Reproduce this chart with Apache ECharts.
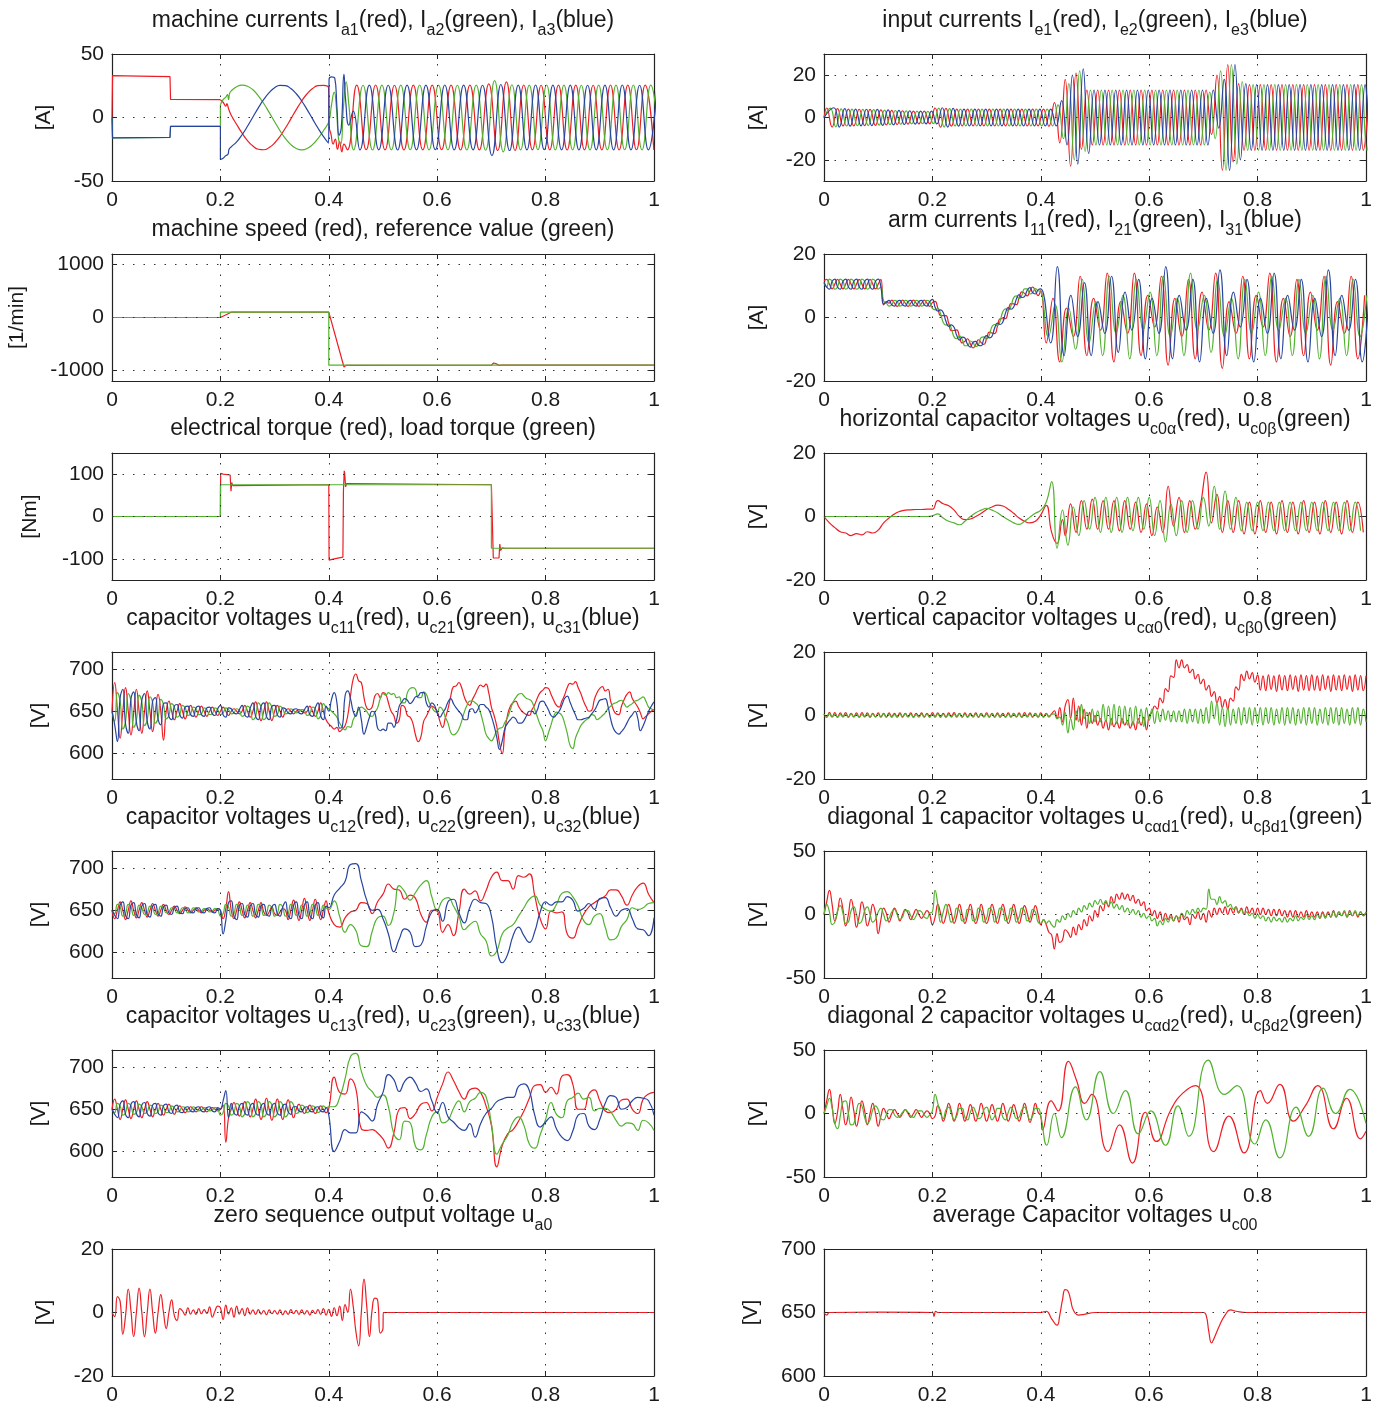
<!DOCTYPE html>
<html><head><meta charset="utf-8">
<script src="https://cdn.jsdelivr.net/npm/echarts@6/dist/echarts.min.js"></script>
<style>html,body{margin:0;padding:0;background:#fff}#c{width:1391px;height:1410px}</style>
</head><body><div id="c"></div>
<script>
// ---------- machine currents ----------
const ia1Step=[[0,0],[0.001,33],[0.05,32.6],[0.107,32.2],[0.108,14.2],[0.2,14]];
const ia2Step=[[0,0],[0.001,-16],[0.107,-15.7],[0.108,-7],[0.2,-7],[0.2,10]];
const ia3Step=[[0,0],[0.001,-16],[0.107,-15.7],[0.108,-7],[0.2,-7],[0.2,-33]];
const ia1Slow=[[0.2,14],[0.205,12],[0.21,9],[0.212,11],[0.215,7],[0.22,1.8],[0.23,-5.5],[0.24,-12.3],[0.25,-18.2],[0.26,-22.5],[0.27,-25],[0.28,-25.4],[0.29,-23.7],[0.3,-20.1],[0.31,-14.8],[0.32,-8.3],[0.33,-1.1],[0.34,6.2],[0.35,13],[0.36,18.7],[0.37,22.8],[0.38,25.1],[0.39,25.3],[0.3995,23.5],[0.401,-8],[0.404,-13],[0.408,-21],[0.412,-17],[0.416,-25],[0.42,-19],[0.424,-27],[0.428,-21]];
const ia2Slow=[[0.2,10],[0.205,14],[0.21,16],[0.213,18],[0.215,14],[0.217,19],[0.22,21],[0.23,24.2],[0.24,25.5],[0.25,24.6],[0.26,21.8],[0.27,17.1],[0.28,11],[0.29,4],[0.3,-3.3],[0.31,-10.4],[0.32,-16.6],[0.33,-21.4],[0.34,-24.4],[0.35,-25.5],[0.36,-24.4],[0.37,-21.4],[0.38,-16.6],[0.39,-10.4],[0.4,-3.3],[0.405,10],[0.41,20],[0.414,8],[0.418,-17],[0.422,-21],[0.427,8],[0.432,28],[0.437,10]];
const ia3Slow=[[0.2,-33],[0.205,-32],[0.21,-30],[0.214,-29],[0.216,-25],[0.22,-23.1],[0.23,-19.2],[0.24,-13.6],[0.25,-6.9],[0.26,0.4],[0.27,7.6],[0.28,14.2],[0.29,19.6],[0.3,23.5],[0.31,25.3],[0.32,25.1],[0.33,22.8],[0.34,18.7],[0.35,13],[0.36,6.2],[0.37,-1.1],[0.38,-8.3],[0.39,-14.8],[0.3995,-20.1],[0.4005,30],[0.405,32],[0.411,31],[0.415,8],[0.419,-14],[0.423,-8],[0.428,34],[0.431,14],[0.437,-6],[0.445,5]];
const ia1A=[-25.5,25.5,-25.4,25.6,-25.5,25.4,-25.6,25.5,-25.5,25.5,-25.4,25.5,-25.6,25.5,-25.5,26.5];
const ia1B=[-26,28,-26,25.6,-25.5,25.4,-25.5,25.5,-25.6,25.5,-25.5,25.4,-25.5,25.6,-25.5,25.5,-25.4,25.5,-25.5];
const ia2A=[-25.5,25.4,-25.6,25.5,-25.5,25.5,-25.4,25.6,-25.5,25.5,-25.5,25.4,-25.6,25.5,-25.8];
const ia2B=[29,-27,25.8,-25.5,25.5,-25.4,25.6,-25.5,25.5,-25.5,25.4,-25.6,25.5,-25.5,25.5,-25.4,25.6,-25.5,25.5,-25.5];
const ia3A=[-25.5,25.5,-25.5,25.4,-25.6,25.5,-25.5,25.5,-25.4,25.6,-25.5,25.5,-25.5,25.4,-30];
const ia3B=[26,-26,25.5,-25.5,25.6,-25.4,25.5,-25.5,25.5,-25.6,25.4,-25.5,25.5,-25.5,25.6,-25.5,25.4,-25.5,25.5];
// ---------- speed / torque ----------
const speedAct=[[0,0],[0.2,0],[0.22,100],[0.4,100],[0.428,-935],[0.432,-905],[0.7,-900],[0.704,-860],[0.708,-870],[0.714,-905],[0.72,-900],[1,-900]];
const speedRef=[[0,0],[0.2,0],[0.2,100],[0.4,100],[0.4,-900],[1,-900]];
const torqueEl=[[0,0],[0.2,0],[0.2005,102],[0.205,100],[0.218,98],[0.2195,60],[0.221,80],[0.223,73],[0.226,75],[0.4,75],[0.4005,-103],[0.41,-100],[0.426,-96],[0.427,60],[0.4285,108],[0.4295,100],[0.431,70],[0.433,78],[0.436,75],[0.7,75],[0.7035,-98],[0.714,-98],[0.7155,-65],[0.717,-80],[0.72,-74],[0.725,-75],[1,-75]];
const torqueLoad=[[0,0],[0.2,0],[0.2,75],[0.7,75],[0.7,-75],[1,-75]];
// ---------- capacitor voltages row 4 ----------
const uc11a=[650,684,652,618,650,678,650,622,648,676,650,624,650,674,650,626,650,670,650,616,
650,662,650,640,650,659,650,641,650,657,650,643,650,656,650,644,650,655,650,645,
650,655,650,645,650,653,650,647,650,657,650,643,650,661,650,639,650,661,650,639,
650,657,650,643,650,653,650,647,650,652,650,648,650,656,650,644,650,660,650,640];
const uc21a=[650,638,672,662,629,638,671,662,631,639,669,661,633,640,667,660,636,642,664,658,
641,645,659,655,643,646,657,654,645,647,655,653,646,647,654,652,646,647,654,652,
646,648,654,652,647,648,653,651,644,646,656,653,640,644,660,655,640,644,660,655,
644,646,656,653,647,648,653,651,648,649,652,651,645,647,655,653,641,645,659,655];
const uc31a=[650,634,614,666,676,635,624,665,673,637,627,663,671,638,629,662,666,641,634,659,
660,644,640,656,658,646,642,655,656,646,644,654,656,646,644,654,655,647,645,653,
657,646,643,654,653,648,647,652,657,646,643,654,660,644,640,656,660,644,640,656,
657,646,643,654,653,648,647,652,653,648,647,652,656,646,644,654,660,645,640,656];
const uc11b=[635,632,629,631,626,629,633,645,668,688,694,686,684,666,654,652,655,668,671,666,
672,670,660,650,645,636,640,657,655,645,643,636,622,614,620,638,644,651,656,654,
650,638,631,642,653,668,679,680,684,678,667,660,657,664,670,677,681,679,682,672,
655,645,632,612,600,628,646,656,660,662,656,651,648,646,645,652,658,666,672,675,
678,677,670,663,657,655,662,669,678,683,682,685,678,671,662,655,650,651,664,672,
677,679,674,676,662,652,647,646,656,664,670,673,665,660,655,648,641,644,647,650,652];
const uc21b=[653,650,647,643,636,631,628,632,631,640,646,652,655,653,650,645,644,649,654,665,
671,669,672,670,671,666,667,660,660,672,677,678,676,666,666,673,670,661,655,650,
649,655,652,643,636,625,622,624,629,638,649,657,662,662,660,657,648,636,623,618,
615,620,627,630,631,637,643,652,661,666,670,671,668,665,664,661,652,643,634,627,
615,624,634,644,649,648,645,636,624,610,606,618,626,633,637,640,642,646,645,640,
642,645,648,653,656,659,660,662,663,659,655,657,659,662,663,665,667,662,655,653,651];
const uc31b=[650,664,672,660,630,632,668,674,665,650,644,655,640,623,632,643,650,648,630,627,
629,627,636,636,631,640,656,661,665,663,659,662,667,668,672,672,660,655,660,657,
648,643,648,653,661,665,659,654,650,646,640,640,652,653,648,652,658,658,655,652,
644,633,619,605,615,630,636,640,643,641,636,636,639,645,650,650,647,652,661,662,
658,652,645,643,646,650,657,665,668,661,653,646,640,640,641,642,643,647,651,657,
663,664,665,656,641,630,625,623,626,630,636,642,646,650,642,627,633,641,650,656,661];
// ---------- capacitor voltages row 5 ----------
const uc12a=[650,640,650,660,650,639,650,661,650,641,650,659,650,642,650,658,650,643,650,657,
650,645,650,655,650,646,650,654,650,647,650,653,650,647,650,652,650,648,650,652,
650,640,652,672,650,640,650,660,650,641,650,659,650,641,650,659,648,644,648,654,
646,644,648,652,650,639,650,662,650,638,650,664,650,638,650,663,650,639,650,661];
const uc22a=[650,646,657,654,643,646,657,654,644,646,656,653,645,647,655,653,645,647,655,653,
647,648,653,652,647,648,653,652,647,648,653,651,648,649,652,651,648,649,652,651,
643,646,657,654,643,646,657,654,644,646,656,653,643,646,657,654,644,646,656,653,
643,646,657,654,643,646,657,654,644,646,656,653,643,646,657,654,644,646,656,653];
const uc32a=[650,644,640,656,660,644,640,656,659,645,641,655,658,645,642,655,657,646,643,654,
656,647,645,653,655,647,646,652,653,648,647,652,653,648,647,652,653,648,647,652,
650,622,638,659,661,643,639,656,658,645,642,655,658,645,642,655,657,646,643,654,
657,646,643,654,660,644,640,656,660,644,640,656,660,644,640,656,659,645,641,655];
const uc12b=[647,633,630,641,648,650,659,658,646,660,669,681,675,674,663,668,664,645,636,650,
649,624,633,620,647,675,669,673,661,673,689,695,685,685,675,691,689,693,667,640,
628,649,647,648,622,617,631,645,654,659,663,667,674,674,667,656,668,678,682,669,659];
const uc22b=[651,661,643,624,633,626,608,607,625,641,643,632,647,679,672,662,671,680,685,666,
650,662,665,655,643,627,633,637,622,614,596,602,622,629,633,643,653,663,667,656,
651,649,657,670,672,666,655,638,633,643,646,630,615,617,631,639,653,651,653,658,659];
const uc32b=[653,668,676,684,704,705,685,662,650,651,640,622,601,616,628,624,607,609,631,648,
651,637,660,663,647,635,653,663,659,658,643,605,588,598,620,630,620,612,625,648,
660,656,660,660,666,662,649,652,658,651,664,665,653,643,650,652,640,628,627,620,641];
// ---------- capacitor voltages row 6 ----------
const uc13a=[650,662,650,638,650,661,650,639,650,660,650,640,650,659,650,641,650,657,650,643,
650,656,650,644,650,654,650,646,650,653,650,647,650,653,650,647,650,652,650,648,
650,655,611,640,650,658,650,642,650,659,650,641,650,662,650,638,650,663,650,637,
650,662,650,638,650,661,650,640,650,656,650,645,650,655,650,645,650,654,650,646];
const uc23a=[650,646,657,654,643,646,657,654,644,646,656,653,645,647,655,653,645,647,655,653,
646,647,654,652,647,648,653,652,647,648,653,651,648,649,652,651,648,649,652,651,
643,646,657,654,643,646,657,654,641,645,659,655,641,645,659,655,641,645,659,655,
641,645,659,655,641,645,659,655,645,647,655,653,646,648,654,652,646,648,654,652];
const uc33a=[650,644,640,656,660,644,640,656,659,645,641,655,658,645,642,655,657,646,643,654,
656,647,645,653,655,647,646,652,653,648,647,652,653,648,647,652,653,648,647,652,
650,660,672,640,657,646,643,654,657,646,643,654,657,646,643,654,657,646,643,654,
657,646,643,654,656,647,644,653,653,648,647,652,653,648,647,652,653,648,647,652];
const uc13b=[651,688,670,668,686,674,627,625,626,622,615,604,622,650,652,639,645,656,658,648,
664,680,694,684,671,662,673,675,670,654,631,582,607,621,626,636,648,663,678,679,
670,676,668,689,691,680,650,650,668,673,660,648,646,650,661,662,650,645,662,668,670];
const uc23b=[653,653,664,686,712,716,695,678,671,664,667,653,621,614,636,634,606,602,620,641,
647,634,637,651,660,647,659,663,670,665,633,597,609,619,635,641,631,609,604,620,
638,658,644,640,660,664,669,662,664,648,651,651,647,637,630,634,633,625,637,634,625];
const uc33b=[643,600,612,626,622,622,647,643,636,656,670,691,685,671,683,688,681,671,674,660,
646,658,641,635,628,625,633,617,633,645,651,659,662,664,664,677,680,672,643,629,
635,641,627,617,613,624,643,645,630,626,638,657,666,664,650,652,660,664,663,660,643];
// ---------- zero sequence ----------
const ua0=[0,-1.3,5,3.5,-6.8,-1,7.4,0.5,-7.6,0,7.7,0,-7.6,0,7.4,0,-6.5,0,5.6,0,
-5,0,4,-1,-2.5,1.2,0.5,-0.8,1.5,-0.5,0.8,-0.6,1.2,-0.4,0.9,-0.3,1.8,-1.5,0.5,2,
1.5,-2.2,2.3,-0.5,1.5,-1.5,2,-0.5,1.2,-1,1.5,-0.5,0.8,-0.6,0.9,-0.5,0.6,-0.7,0.8,-0.4,
0.6,-0.5,0.8,-0.7,0.5,-0.6,0.9,-0.4,0.7,-0.6,0.8,-0.5,0.6,-0.8,0.7,-0.4,0.9,-0.6,1.2,-0.8,
1,-1.2,1.5,-1,2,-2.5,2.5,0,7.4,2,-6,-10.5,0,10.5,2,-7.6,1,4.5,4,-6.5,-5];
const ua0Tail=[[0.5005,0],[1,0]];
// ---------- input currents (extrema every 0.01 s) ----------
const ie1=[4.5,-4.5,4.2,-4,4,-4,3.9,-3.8,3.8,-3.7,3.6,-3.5,3.4,-3.3,3.2,-3.1,3,-3,3,-3,
4.5,-4.6,4.3,-4.1,4,-4,4,-4,4,-4,4,-4,4,-4,4,-4,4,-4,4,-4,
4,-4.2,7,-12,18,-23,21,-15,13,-13,13,-13,13,-13,13,-13,13,-13,13,-13,
13,-13,13,-13,13,-13,13,-13,13,-13,13,-8,20,-25,25,-21,16,-15.5,15.5,-15.5,
15.5,-15.5,15.5,-15.5,15.5,-15.5,15.5,-15.5,15.5,-15.5,15.5,-15.5,15.5,-15.5,15.5,-15.5,15.5,-15.5,15.5,-15.5,15.5];
const ie2=[4.4,-4.4,4.1,-4,4,-3.9,3.8,-3.8,3.7,-3.6,3.5,-3.4,3.3,-3.2,3.1,-3,3,-2.9,2.9,-2.9,
4.4,-4.5,4.2,-4,4,-4,4,-4,4,-4,4,-4,4,-4,4,-4,4,-4,4,-4,
4,-4,6,-10,16,-20,22,-16,13,-13,13,-13,13,-13,13,-13,13,-13,13,-13,
13,-13,13,-13,13,-13,13,-13,13,-13,12,-10,22,-25,25,-22,17,-15.5,15.5,-15.5,
15.5,-15.5,15.5,-15.5,15.5,-15.5,15.5,-15.5,15.5,-15.5,15.5,-15.5,15.5,-15.5,15.5,-15.5,15.5,-15.5,15.5,-15.5,15.5];
const ie3=[4.6,-4.5,4.2,-4.1,4,-4,3.9,-3.9,3.8,-3.7,3.6,-3.5,3.4,-3.3,3.2,-3.1,3,-3,3,-3,
4.6,-4.5,4.3,-4.1,4,-4,4,-4,4,-4,4,-4,4,-4,4,-4,4,-4,4,-4,
4,-4,8,-13,20,-22,23,-17,13,-13,13,-13,13,-13,13,-13,13,-13,13,-13,
13,-13,13,-13,13,-13,13,-13,13,-13,13,-5,18,-25,25,-20,16,-15.5,15.5,-15.5,
15.5,-15.5,15.5,-15.5,15.5,-15.5,15.5,-15.5,15.5,-15.5,15.5,-15.5,15.5,-15.5,15.5,-15.5,15.5,-15.5,15.5,-15.5,15.5];
// ---------- arm currents ----------
const arm11a=[11.5,12,10.5,9,10.5,12,10.5,9,10.5,12,10.5,9,10.5,12,10.5,9,10.5,12,10.5,9,
10.5,12,4,5,4.5,5.5,4.5,3.5,4.5,5.5,4.5,3.5,4.5,5.5,4.5,3.5,4.5,5.5,4.5,3.5,
4.7,5.05,3,0.6,0.6,0.6,-1.8,-4.15,-4.1,-3.9,-6.1,-8,-7.5,-6.7,-8.3,-9.6,-8.5,-7,-7.9,-8.5,
-6.7,-4.6,-4.9,-5.05,-2.8,-0.4,-0.4,-0.35,2.1,4.4,4.3,4.05,6.2,8.1,7.6,6.8,8.4,9.6,8.4,6.9];
const arm21a=[11,9.6,12.1,11.4,8.9,9.6,12.1,11.4,8.9,9.6,12.1,11.4,8.9,9.6,12.1,11.4,8.9,9.6,12.1,11.4,
8.9,9.6,5.2,4.6,3.6,4,5.4,5,3.6,4,5.4,5,3.6,4,5.4,5,3.6,4,5.4,5,
2.85,2.4,2.8,1.2,-1.6,-2.4,-1.95,-3.5,-6.1,-6.7,-5.8,-6.9,-8.9,-8.9,-7.4,-7.9,-9.2,-8.5,-6.3,-6.1,
-6.8,-5.5,-2.85,-2.2,-2.6,-1,1.85,2.7,2.2,3.7,6.25,6.8,5.9,7,9,9,7.4,7.8,9.1,8.4];
const arm31a=[11,9.6,8.9,11.4,12.1,9.6,8.9,11.4,12.1,9.6,8.9,11.4,12.1,9.6,8.9,11.4,12.1,9.6,8.9,11.4,
12.1,9.6,4.2,4.8,5.4,4,3.6,5,5.4,4,3.6,5,5.4,4,3.6,5,5.4,4,3.6,5,
5.7,3.25,2,2.4,1.6,-1.2,-2.8,-2.35,-3.1,-5.7,-7.1,-6.2,-6.5,-8.5,-9.3,-7.8,-7.5,-8.8,-8.9,-6.7,
-5.7,-6.4,-5.9,-3.25,-1.8,-2.2,-1.4,1.45,3.1,2.6,3.3,5.85,7.2,6.3,6.6,8.6,9.4,7.8,7.4,8.7];
const arm11b=[-8,6,-14,3,-6,13,-12,6,-4,14,-14,5,-5,14,-12,7,-3,13,-15,6,-6,12,-13,8,-4,14,-16,5,-5,13,-13,7,-3,14,-14,6,-6,12,-12,8,-4,13,-15,5,-5,13,-13,7];
const arm21b=[-6,4,-14,3,-10,12,-8,5,-12,13,-5,7,-13,12,-4,8,-12,13,-6,6,-12,14,-4,7,-11,12,-6,6,-13,12,-5,8,-12,13,-4,6,-12,12,-5,7,-13,13,-4,6,-12,12,-6,7];
const arm31b=[-8,16,-12,7,-6,11,-12,5,-5,13,-11,8,-4,12,-13,6,-5,16,-13,7,-4,12,-14,6,-5,15,-12,8,-3,12,-14,6,-5,14,-13,7,-4,12,-14,6,-6,15,-12,7,-4,12,-14,8];
// ---------- horizontal capacitor voltages ----------
const hzRa=[0,-2,-3.5,-4.8,-5.2,-6,-5.4,-5.8,-4.8,-5.2,-4.3,-2,-0.5,0.8,1.6,2,2.1,2.2,2.2,2.3,
2.3,5,4,3.4,2,0,-1,-0.8,0,1,2.2,3,3.6,3.3,2.3,1,-0.5,-1.5,-2,-1.5,0.5,3.5,-5,-8.5,-1];
const hzRb=[-6,4,-5,5,-4,5.5,-4,5,-4,5,-4.5,5,-4,4.5,-5,4,-6,3,-5,9.5,-3,6,-5,5,-4,4,14,-2,7,-5,
5,-5,5,-5.5,4.5,-5.5,5,-5,4.5,-5.5,5,-5,4.5,-5.5,5,-5,4.5,-5.5,5,-5,4.5,-5.5,5,-5,4.5,-5];
const hzGa=[0,0,0,0,0,0,0,0,0,0,0,0,0,0,0,0,0,0,0,0,
0.2,0.8,-0.5,-1.5,-2,-2.6,-1.5,0,1.2,2,2.6,2,1.2,0,-1,-2,-2.5,-1.5,-0.2,1,2,4.5,11,-10];
const hzGb=[2,-9,3,-6,5,-4,6,-5,6,-5,6,-5,6,-4.5,6,-4,6,-6,5,-8,4,-6,5,-5,5,-4,6,-3,9.5,-4,
8,-4,6,-4.5,4.5,-4.5,4.5,-4.5,4.5,-4.5,4.5,-4.5,4.5,-4.5,4.5,-4.5,4.5,-4.5,4.5,-4.5,4.5,-4.5,4.5,-4.5,4.5,-4.5];
// ---------- vertical capacitor voltages ----------
const vtR=[0.5,-0.5,1,-0.4,0.9,-0.5,0.8,-0.3,0.9,-0.5,0.7,-0.4,0.8,-0.5,0.9,-0.3,0.8,-0.5,0.7,-0.4,
0.8,-0.4,0.7,-0.5,0.8,-0.3,0.7,-0.5,0.8,-0.4,0.7,-0.4,0.8,-0.5,0.7,-0.3,0.8,-0.4,0.7,-0.5,
0.9,-0.3,0.8,-0.5,0.7,-0.4,0.8,-0.4,0.9,-0.3,0.7,-0.5,0.8,-0.4,0.7,-0.4,0.8,-0.5,0.7,-0.4,
0.8,-0.4,0.7,-0.5,0.8,-0.3,0.7,-0.5,0.8,-0.4,0.7,-0.4,0.8,-0.5,0.9,-0.3,0.8,-0.4,0.7,-0.5,
0.8,-0.4,0.7,-0.3,0.5,1.5,-1,2.5,-2,3,5,-1,5.5,-1.5,3,-3,2,-4,1,-2.5,
0,-3,-1,-4,-1.5,-4.5,-1,-3.5,-2,-4,-1,-3,-1.5,-4,-2,-4.5,-1,-3,-0.5,-4.5,
0,1,3,2,5.5,4,8.5,7.5,12.5,12,17.5,15,17.5,15,16,13.5,14.5,11.5,13,10,
11.5,8,9.5,6,7.5,4,6,2.5,5,2,5.5,4.5,9,8,13,11,14,11.5,13.5,10.5,
12.8,8,12.5,7.8,12.8,8.2,12.5,7.6,12.8,8,12.6,7.8,12.8,8.2,12.5,7.6,12.8,8,12.6,7.8,
12.8,8,12.5,7.8,12.8,8.2,12.5,7.6,12.8,8,12.6,7.8,12.8,8.2,12.5,7.6,12.8,8,12.6,7.8,12.5];
const vtG=[0.4,-0.6,0.5,-0.5,0.4,-0.6,0.3,-0.5,0.4,-0.6,0.5,-0.5,0.4,-0.6,0.3,-0.5,0.4,-0.6,0.5,-0.5,
0.4,-0.6,0.5,-0.5,0.4,-0.6,0.3,-0.5,0.4,-0.6,0.5,-0.5,0.4,-0.6,0.3,-0.5,0.4,-0.6,0.5,-0.5,
0.4,-0.6,0.5,-0.5,0.4,-0.6,0.3,-0.5,0.4,-0.6,0.5,-0.5,0.4,-0.6,0.3,-0.5,0.4,-0.6,0.5,-0.5,
0.4,-0.6,0.5,-0.5,0.4,-0.6,0.3,-0.5,0.4,-0.6,0.5,-0.5,0.4,-0.6,0.3,-0.5,0.4,-0.6,0.5,-0.5,
0.4,-0.6,0.5,-0.5,0.4,0.5,-1,-0.5,-3,1,-5.5,-1,-4.5,1.5,-2,3.5,-1,1,-2.5,2,
-2,1.5,-2,3.5,-2,3,-3,3.5,-2.5,3,-2.5,3,-3,2.5,-3,3,-2.5,2,-3.5,2.5,
-1.5,2,-2.5,1.5,-2,2,-1.5,1.5,-2,1.5,-2,1.5,-2,2,-2.5,2,-2,2,-2.5,2,
-2.5,2.5,-2.5,4.5,-1,4,-3,2.5,-3.5,2.5,-3,2,-2.5,2.5,-3,2.5,-2.5,2.5,-3,2.5,
-2.5,2.5,-3,2.5,-2.5,2.5,-3,2,-2.5,2.5,-3,2.5,-2.5,2.5,-3,2,-2.5,2.5,-3,2.5,
-2.5,2.5,-3,2,-2.5,2.5,-3,2.5,-2.5,2.5,-3,2.5,-2.5,2,-3,2.5,-2.5,2.5,-3,2,-2];
// ---------- diagonal 1 ----------
const d1R=[0,10,19,8,-5,2,13,4,-9,0,12,3,-10,-1,10,2,-9,-2,8,1,
-15,-4,5,1,-6,-1,5,1,-5,0,4,1,-4,0,4,0,-3,0,3,0,
-8,-2,8,1,-7,-1,8,1,-7,-1,8,0,-7,0,8,0,-7,-1,8,0,
-7,-1,8,1,-7,0,8,0,-7,-1,8,0,-7,0,7,1,-6,0,7,0,
-8,-4,-8,-14,-16,-27,-15,-22,-20,-12,-14,-18,-10,-16,-8,-12,-4,-9,-1,-5,
3,-2,7,3,10,6,14,9,16,12,17,12,16,11,15,9,12,7,10,3,
5,-1,3,-3,2,-5,1,-4,0,-5,-1,-6,1,-4,-2,-8,0,-3,2,-4,
1,-6,3,-2,5,0,5,1,6,0,5,1,6,1,5,0,6,1,5,0,
5,0,5,0,4,-1,4,-1,4,-1,3,-2,3,-2,3,-2,2,-2,3,-2,
2,-2,2,-3,2,-2,2,-2,3,-2,2,-1,2,-2,3,-1,2,-2,2,-1,2];
const d1G=[0,8,2,-8,-6,3,7,1,-7,-6,3,6,0,-7,-5,3,6,0,-6,-4,
2,5,0,-5,-3,2,4,0,-4,-2,3,3,-1,-4,-1,3,2,-2,-3,1,
2,19,8,-6,2,8,1,-6,-3,5,3,-5,-4,4,4,-5,-4,5,3,-6,
-3,5,3,-6,-2,5,4,-5,-3,5,3,-6,-2,5,3,-5,-3,4,2,-6,
-7,-4,-7,-5,-8,-10,-4,-6,-1,-4,1,-2,3,0,5,2,7,4,9,6,
11,8,12,8,11,7,10,5,8,4,7,2,5,1,4,0,3,-2,1,-3,
-1,-5,-3,-9,-5,-8,-3,-6,-2,-5,-1,-3,1,-2,3,0,4,1,5,2,
5,4,20,12,12,8,14,9,11,6,8,4,6,2,4,0,2,-1,1,-3,
0,-3,-1,-5,-2,-6,-2,-5,-3,-6,-2,-6,-3,-5,-1,-5,-2,-4,0,-4,
-1,-4,0,-3,1,-3,1,-2,2,-2,2,-1,3,-2,2,-1,3,-1,2,-1,2];
// ---------- diagonal 2 ----------
const d2Ra=[0,10,19,6,-8,1,15,3,-9,0,13,2,-10,-1,10,2,-9,0,8,0,
-10,-2,4,0,-4,0,3,0,-3,0,3,0,-3,0,3,0,-3,0,2,0,
-4,-2,6,2,-6,0,8,2,-6,0,8,1,-6,0,7,1,-6,0,8,1,
-6,0,7,1,-6,0,8,1,-6,0,7,1,-6,0,8,1,-7,0,8,1];
const d2Ga=[0,6,12,4,-8,-12,-2,9,10,0,-9,-8,2,8,6,-3,-8,-5,3,6,
3,-4,-5,-1,3,3,-1,-3,-2,1,3,1,-2,-3,0,2,2,-1,-3,-1,
2,15,8,0,-4,3,5,0,-5,-2,4,4,-3,-5,1,5,1,-4,-3,3,
5,0,-5,-2,4,4,-3,-5,1,5,1,-4,-3,3,5,0,-5,-2,4,4];
const d2Rb=[[0.4,-2],[0.403,-13],[0.419,10],[0.432,2],[0.451,41],[0.466,26],[0.481,8],[0.494,15],[0.524,-30],[0.545,-9],[0.569,-39],[0.593,1],[0.613,-22],[0.64,3],[0.662,16],[0.686,22],[0.719,-30],[0.747,-2],[0.775,-31],[0.805,18],[0.818,8],[0.841,23],[0.866,-6],[0.888,6],[0.911,22],[0.94,-12],[0.964,12],[0.99,-20],[1,-14]];
const d2Gb=[[0.4,-2],[0.411,-25],[0.425,0],[0.438,-19],[0.464,21],[0.484,-5],[0.509,33],[0.534,0],[0.556,18],[0.58,-16],[0.603,2],[0.63,-25],[0.653,6],[0.673,-18],[0.709,42],[0.739,15],[0.762,22],[0.795,-24],[0.815,-5],[0.841,-35],[0.871,5],[0.894,-18],[0.921,20],[0.944,0],[0.97,19],[1,-8]];
// ---------- average capacitor voltage ----------
const avgC=[[0,650],[0.005,648],[0.01,650],[0.1,650.3],[0.2,650],[0.203,647],[0.206,651],[0.21,650],[0.4,650],[0.41,651],[0.42,645],[0.43,640],[0.435,648],[0.44,660],[0.445,668],[0.45,667],[0.455,660],[0.46,652],[0.47,648],[0.48,648.5],[0.5,650],[0.7,650],[0.705,648],[0.71,635],[0.715,626],[0.72,630],[0.73,640],[0.74,648],[0.75,652],[0.76,651],[0.78,650],[1,650]];

// ---------- chart building ----------
const RED='#ee1d24', GREEN='#52b230', BLUE='#2744a0';
const FONT='"Liberation Sans", Arial, Helvetica, sans-serif';
const COLS=[112,824], W=542, H=127, TOPS=[54,254,453,652,851,1050,1249];
function seg(t0,dt,vals){return vals.map((v,i)=>[Math.round((t0+i*dt)*1e5)/1e5,v]);}
function cat(){return [].concat(...arguments);}

const P=[
 {c:0,r:0,y:[-50,50],t:[-50,0,50],g:[0],name:'[A]',gap:57,sub:1,
  title:'machine currents I{s|a1}(red), I{s|a2}(green), I{s|a3}(blue)',
  s:[[RED,ia1Step,0],[RED,cat(ia1Slow,seg(0.4342,0.0174,ia1A),seg(0.7117,0.016,ia1B)),1],
     [GREEN,ia2Step,0],[GREEN,cat(ia2Slow,seg(0.4458,0.0174,ia2A),seg(0.7059,0.016,ia2B)),1],
     [BLUE,ia3Step,0],[BLUE,cat(ia3Slow,seg(0.4574,0.0174,ia3A),seg(0.7175,0.016,ia3B)),1]]},
 {c:0,r:1,y:[-1200,1200],t:[-1000,0,1000],g:[-1000,0,1000],name:'[1/min]',gap:84,sub:0,
  title:'machine speed (red), reference value (green)',
  s:[[RED,speedAct,0],[GREEN,speedRef,0]]},
 {c:0,r:2,y:[-150,150],t:[-100,0,100],g:[-100,0,100],name:'[Nm]',gap:71,sub:0,
  title:'electrical torque (red), load torque (green)',
  s:[[RED,torqueEl,0],[GREEN,torqueLoad,0]]},
 {c:0,r:3,y:[570,720],t:[600,650,700],g:[600,650,700],name:'[V]',gap:62,sub:1,
  title:'capacitor voltages u{s|c11}(red), u{s|c21}(green), u{s|c31}(blue)',
  s:[[RED,cat(seg(0,0.005,uc11a),seg(0.4,0.005,uc11b)),1],[GREEN,cat(seg(0,0.005,uc21a),seg(0.4,0.005,uc21b)),1],[BLUE,cat(seg(0,0.005,uc31a),seg(0.4,0.005,uc31b)),1]]},
 {c:0,r:4,y:[570,720],t:[600,650,700],g:[600,650,700],name:'[V]',gap:62,sub:1,
  title:'capacitor voltages u{s|c12}(red), u{s|c22}(green), u{s|c32}(blue)',
  s:[[RED,cat(seg(0,0.005,uc12a),seg(0.4,0.01,uc12b)),1],[GREEN,cat(seg(0,0.005,uc22a),seg(0.4,0.01,uc22b)),1],[BLUE,cat(seg(0,0.005,uc32a),seg(0.4,0.01,uc32b)),1]]},
 {c:0,r:5,y:[570,720],t:[600,650,700],g:[600,650,700],name:'[V]',gap:62,sub:1,
  title:'capacitor voltages u{s|c13}(red), u{s|c23}(green), u{s|c33}(blue)',
  s:[[RED,cat(seg(0,0.005,uc13a),seg(0.4,0.01,uc13b)),1],[GREEN,cat(seg(0,0.005,uc23a),seg(0.4,0.01,uc23b)),1],[BLUE,cat(seg(0,0.005,uc33a),seg(0.4,0.01,uc33b)),1]]},
 {c:0,r:6,y:[-20,20],t:[-20,0,20],g:[0],name:'[V]',gap:57,sub:1,
  title:'zero sequence output voltage u{s|a0}',
  s:[[RED,cat(seg(0,0.005,ua0),ua0Tail),1]]},
 {c:1,r:0,y:[-30,30],t:[-20,0,20],g:[-20,0,20],name:'[A]',gap:56,sub:1,
  title:'input currents I{s|e1}(red), I{s|e2}(green), I{s|e3}(blue)',
  s:[[RED,cat([[0,0]],seg(0.005,0.01,ie1)),1],[GREEN,cat([[0,0]],seg(0.0117,0.01,ie2)),1],[BLUE,cat([[0,0]],seg(0.0183,0.01,ie3)),1]]},
 {c:1,r:1,y:[-20,20],t:[-20,0,20],g:[0],name:'[A]',gap:56,sub:1,
  title:'arm currents I{s|11}(red), I{s|21}(green), I{s|31}(blue)',
  s:[[RED,cat(seg(0,0.005,arm11a),[[0.4,8.5]],seg(0.41,0.0125,arm11b)),1],[GREEN,cat(seg(0,0.005,arm21a),[[0.4,8.2]],seg(0.414,0.0125,arm21b)),1],[BLUE,cat(seg(0,0.005,arm31a),[[0.4,9]],seg(0.418,0.0125,arm31b)),1]]},
 {c:1,r:2,y:[-20,20],t:[-20,0,20],g:[0],name:'[V]',gap:56,sub:1,
  title:'horizontal capacitor voltages u{s|c0α}(red), u{s|c0β}(green)',
  s:[[RED,cat(seg(0,0.01,hzRa),seg(0.445,0.01,hzRb)),1],[GREEN,cat(seg(0,0.01,hzGa),seg(0.44,0.01,hzGb)),1]]},
 {c:1,r:3,y:[-20,20],t:[-20,0,20],g:[0],name:'[V]',gap:56,sub:1,
  title:'vertical capacitor voltages u{s|cα0}(red), u{s|cβ0}(green)',
  s:[[RED,seg(0,0.005,vtR),1],[GREEN,seg(0,0.005,vtG),1]]},
 {c:1,r:4,y:[-50,50],t:[-50,0,50],g:[0],name:'[V]',gap:56,sub:1,
  title:'diagonal 1 capacitor voltages u{s|cαd1}(red), u{s|cβd1}(green)',
  s:[[RED,seg(0,0.005,d1R),1],[GREEN,seg(0,0.005,d1G),1]]},
 {c:1,r:5,y:[-50,50],t:[-50,0,50],g:[0],name:'[V]',gap:56,sub:1,
  title:'diagonal 2 capacitor voltages u{s|cαd2}(red), u{s|cβd2}(green)',
  s:[[RED,cat(seg(0,0.005,d2Ra),d2Rb),1],[GREEN,cat(seg(0,0.005,d2Ga),d2Gb),1]]},
 {c:1,r:6,y:[600,700],t:[600,650,700],g:[650],name:'[V]',gap:62,sub:1,
  title:'average Capacitor voltages u{s|c00}',
  s:[[RED,avgC,1]]}
];

function richText(t){return t.split(/(\{s\|[^}]*\})/).filter(x=>x).map(x=>x.startsWith('{s|')?x:'{n|'+x+'}').join('');}

const option={animation:false,backgroundColor:'#fff',textStyle:{fontFamily:FONT},grid:[],xAxis:[],yAxis:[],series:[],graphic:[]};
const TXT='#1a1a1a', AX='#222', TICKF=21, TITF=23, SUBF=16;
P.forEach((p,i)=>{
  const left=COLS[p.c], top=TOPS[p.r];
  option.grid.push({left:left,top:top,width:W,height:H,containLabel:false});
  const axLine={show:true,onZero:false,lineStyle:{color:AX,width:1.2}};
  const tick={show:true,inside:true,length:5,lineStyle:{color:AX,width:1}};
  option.xAxis.push({gridIndex:i,type:'value',position:'bottom',min:0,max:1,interval:0.2,axisLine:axLine,axisTick:tick,splitLine:{show:false},
    axisLabel:{fontSize:TICKF,color:TXT,margin:9,fontFamily:FONT,formatter:v=>String(Math.round(v*10)/10)}});
  option.xAxis.push({gridIndex:i,type:'value',position:'top',min:0,max:1,interval:0.2,axisLine:axLine,axisTick:tick,splitLine:{show:false},axisLabel:{show:false}});
  option.yAxis.push({gridIndex:i,type:'value',position:'left',min:p.y[0],max:p.y[1],axisLine:axLine,axisTick:Object.assign({},tick,{customValues:p.t}),splitLine:{show:false},
    axisLabel:{fontSize:TICKF,color:TXT,margin:8,fontFamily:FONT,customValues:p.t,formatter:v=>String(Math.round(v))}},
    );
  Object.assign(option.yAxis[option.yAxis.length-1],{name:p.name,nameLocation:'middle',nameGap:p.gap,nameRotate:90,nameTextStyle:{fontSize:TICKF,color:TXT,fontFamily:FONT}});
  option.yAxis.push({gridIndex:i,type:'value',position:'right',min:p.y[0],max:p.y[1],axisLine:axLine,axisTick:Object.assign({},tick,{customValues:p.t}),splitLine:{show:false},axisLabel:{show:false}});
  // dotted grid
  option.series.push({type:'line',xAxisIndex:2*i,yAxisIndex:2*i,data:[],silent:true,z:1,
    markLine:{silent:true,symbol:['none','none'],animation:false,label:{show:false},emphasis:{disabled:true},
      lineStyle:{color:'#333',width:1,type:[1.5,9]},
      data:[0.2,0.4,0.6,0.8].map(v=>({xAxis:v})).concat(p.g.filter(v=>v>p.y[0]&&v<p.y[1]).map(v=>({yAxis:v})))}});
  p.s.forEach(s=>{
    option.series.push({type:'line',xAxisIndex:2*i,yAxisIndex:2*i,data:s[1],symbol:'none',showSymbol:false,
      smooth:s[2]?0.5:false,lineStyle:{color:s[0],width:1.2},itemStyle:{color:s[0]},silent:true,z:3,clip:true});
  });
  option.graphic.push({type:'text',x:left+W/2,y:top-(p.sub?45:36),silent:true,z:10,
    style:{text:richText(p.title),align:'center',verticalAlign:'top',fill:TXT,fontSize:TITF,fontFamily:FONT,
      rich:{n:{fontSize:TITF,fontFamily:FONT,lineHeight:30,verticalAlign:'top',fill:TXT},
            s:{fontSize:SUBF,fontFamily:FONT,lineHeight:30,verticalAlign:'bottom',fill:TXT}}}});
});
const chart=echarts.init(document.getElementById('c'),null,{renderer:'canvas'});
chart.setOption(option);
</script></body></html>
